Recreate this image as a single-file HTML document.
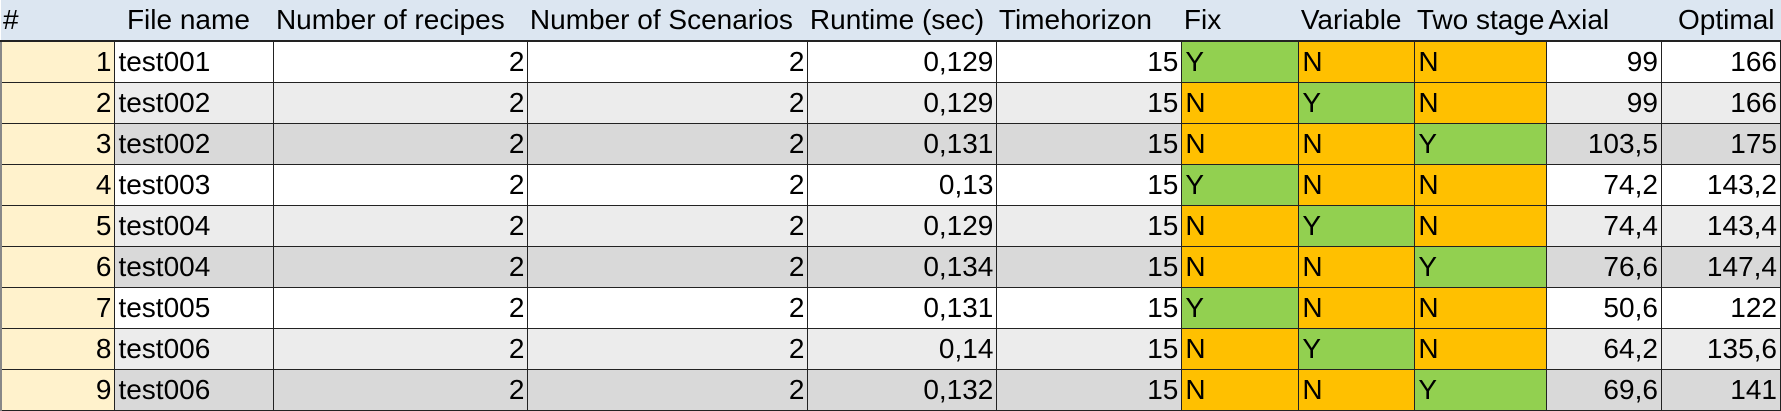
<!DOCTYPE html>
<html><head><meta charset="utf-8"><style>
html,body{margin:0;padding:0;width:1781px;height:411px;overflow:hidden;background:#fff;}
table{position:absolute;left:0;top:0;border-collapse:collapse;table-layout:fixed;font-family:"Liberation Sans",sans-serif;font-size:28px;color:#000;}
td,th{height:40px;padding:0 3px;white-space:nowrap;overflow:hidden;font-weight:normal;line-height:40px;}
th{background:#dce6f1;text-align:left;border-bottom:2px solid #222;padding:0 2px;}
td{border:1px solid #222;text-align:right;}
td.l{text-align:left;}
td.idx{background:#fff2cc;border-left:2px solid #888;}
tr.r0 td{background:#fff;} tr.r1 td{background:#ececec;} tr.r2 td{background:#d9d9d9;}
tr td.idx{background:#fff2cc;}
tr td.g{background:#92d050;text-align:left;} tr td.o{background:#ffc000;text-align:left;}
</style></head><body>
<table>
<colgroup><col style="width:114px"><col style="width:159px"><col style="width:254px"><col style="width:280px"><col style="width:189px"><col style="width:185px"><col style="width:117px"><col style="width:116px"><col style="width:130px"><col style="width:115px"><col style="width:119px"></colgroup>
<thead><tr>
<th>#</th>
<th style="padding-left:12px">File name</th>
<th>Number of recipes</th>
<th>Number of Scenarios</th>
<th>Runtime (sec)</th>
<th>Timehorizon</th>
<th>Fix</th>
<th>Variable</th>
<th>Two stage</th>
<th>Axial</th>
<th style="text-align:right;padding-right:6px">Optimal</th>
</tr></thead>
<tbody id="tb"></tbody>
</table>
<script>
const files=["test001","test002","test002","test003","test004","test004","test005","test006","test006"];
const runtimes=["0,129","0,129","0,131","0,13","0,129","0,134","0,131","0,14","0,132"];
const fixes=["Y","N","N","Y","N","N","Y","N","N"];
const variables=["N","Y","N","N","Y","N","N","Y","N"];
const twostages=["N","N","Y","N","N","Y","N","N","Y"];
const axials=["99","99","103,5","74,2","74,4","76,6","50,6","64,2","69,6"];
const optimals=["166","166","175","143,2","143,4","147,4","122","135,6","141"];
const tb=document.getElementById('tb');
files.forEach((f,i)=>{
  const tr=document.createElement('tr');
  tr.className='r'+(i%3);
  
  
  const cells=[[String(i+1),'idx'],[f,'l'],['2',''],['2',''],[runtimes[i],''],['15',''],
    [fixes[i],fixes[i]==='Y'?'g':'o'],[variables[i],variables[i]==='Y'?'g':'o'],[twostages[i],twostages[i]==='Y'?'g':'o'],
    [axials[i],''],[optimals[i],'']];
  const names=['index','file-name','recipes','scenarios','runtime','timehorizon','fix','variable','two-stage','axial','optimal'];
  cells.forEach((c,j)=>{
    const td=document.createElement('td');
    td.textContent=c[0];
    if(c[1])td.className=c[1];
    
    
    tr.appendChild(td);
  });
  tb.appendChild(tr);
});
</script>
</body></html>
